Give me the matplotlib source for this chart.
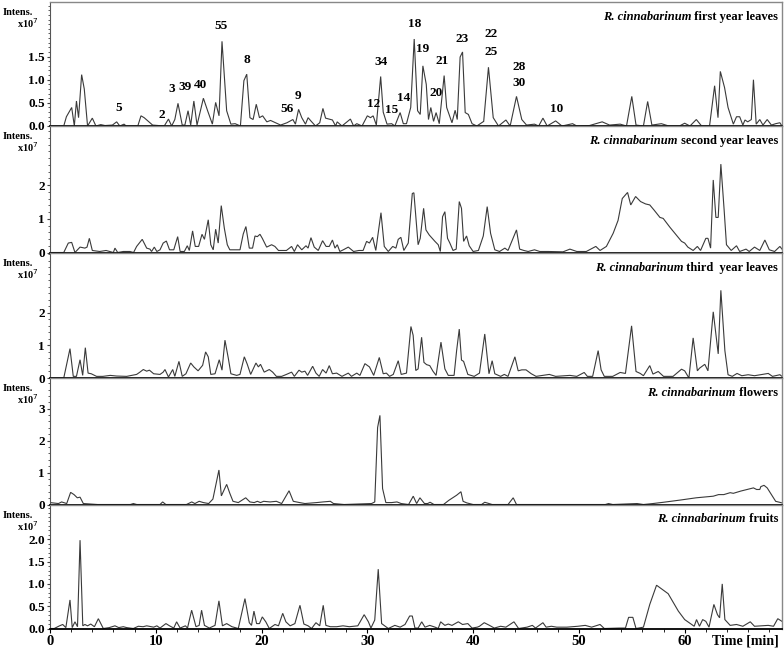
import matplotlib
matplotlib.use("Agg")
import matplotlib.pyplot as plt
from matplotlib.ticker import MultipleLocator, FixedLocator
from matplotlib.offsetbox import TextArea, HPacker, AnchoredOffsetbox

# ---------------- data (time [min], intensity [x10^7]) ----------------
first_year = [(0, 0), (1.3, 0), (1.55, 0.2), (2.05, 0.4), (2.3, 0), (2.5, 0.54), (2.7, 0.18), (2.99, 1.11),
              (3.24, 0.8), (3.55, 0), (4.0, 0.17), (4.34, 0), (4.8, 0.03), (5.2, 0.01), (5.9, 0.02), (6.3, 0.09),
              (6.6, 0), (7.0, 0.04), (7.2, 0), (8.3, 0), (8.6, 0.22), (8.9, 0.18), (9.7, 0.02), (10.8, 0),
              (11.2, 0.15), (11.5, 0), (11.8, 0.14), (12.1, 0.49), (12.5, 0.02), (12.75, 0.02), (13.05, 0.33),
              (13.3, 0.02), (13.6, 0.54), (13.9, 0.02), (14.5, 0.6), (14.9, 0.33), (15.35, 0.04), (15.66, 0.51),
              (15.98, 0.22), (16.26, 1.83), (16.7, 0.33), (17.1, 0.04), (17.5, 0.05), (18.0, 0), (18.33, 0.98),
              (18.6, 1.12), (18.9, 0.18), (19.2, 0.14), (19.5, 0.47), (19.8, 0.18), (20.1, 0.22), (20.5, 0.09),
              (20.85, 0.12), (21.8, 0.02), (22.4, 0.07), (22.96, 0.14), (23.2, 0.04), (23.5, 0.36), (23.8, 0.18),
              (24.15, 0.04), (24.4, 0.18), (24.7, 0.1), (25.1, 0), (25.5, 0.07), (25.8, 0.38), (26.05, 0.17),
              (26.7, 0.13), (27.0, 0), (27.15, 0.09), (27.6, 0), (28.4, 0.15), (28.7, 0), (29.0, 0.05), (29.5, 0),
              (30.0, 0.22), (30.3, 0.18), (30.55, 0.22), (30.85, 0.02), (31.26, 1.07), (31.5, 0.3), (31.86, 0.04),
              (32.3, 0.05), (32.6, 0), (33.1, 0.29), (33.4, 0.05), (33.7, 0.05), (34.1, 0.4), (34.43, 1.88),
              (34.75, 0.33), (35.0, 0.25), (35.25, 1.3), (35.57, 0.9), (35.78, 0.14), (36.0, 0.4), (36.26, 0.1),
              (36.5, 0.29), (36.8, 0.05), (37.26, 1.09), (37.5, 0.4), (38.0, 0.07), (38.3, 0.34), (38.5, 0.14),
              (38.77, 1.49), (39.0, 1.6), (39.25, 0.29), (39.55, 0.25), (39.9, 0.05), (40.35, 0), (41.0, 0.1),
              (41.45, 1.27), (41.9, 0.18), (42.4, 0), (43.1, 0.13), (43.5, 0), (44.1, 0.64), (44.6, 0.14),
              (45.05, 0.02), (45.8, 0.04), (46.2, 0), (46.6, 0.17), (47.0, 0), (47.8, 0.11), (48.4, 0),
              (49.4, 0.05), (49.8, 0), (51.0, 0.01), (52.2, 0.09), (52.9, 0.02), (53.9, 0.04), (54.5, 0),
              (55.0, 0.64), (55.4, 0.02), (56.1, 0), (56.5, 0.53), (56.9, 0.02), (57.8, 0.05), (58.5, 0),
              (59.5, 0), (60.0, 0.06), (60.5, 0), (61.1, 0.14), (61.6, 0), (62.35, 0), (62.83, 0.87),
              (63.15, 0.18), (63.37, 1.18), (63.77, 0.83), (64.1, 0.4), (64.6, 0.04), (64.9, 0.2), (65.2, 0.2),
              (65.5, 0.02), (65.7, 0.13), (65.96, 0.09), (66.3, 0.14), (66.5, 1.0), (66.76, 0.04), (67.1, 0.14),
              (67.4, 0.02), (67.8, 0.14), (68.2, 0.02), (68.6, 0.05), (69.0, 0.07), (69.2, 0)]

second_year = [(0, 0), (1.3, 0), (1.73, 0.28), (2.05, 0.3), (2.36, 0), (2.84, 0.16), (3.3, 0.13), (3.5, 0.16),
               (3.72, 0.42), (4.0, 0.06), (4.7, 0.03), (5.3, 0.06), (5.99, 0), (6.14, 0.13), (6.4, 0),
               (6.93, 0.03), (7.56, 0.03), (7.9, 0), (8.19, 0.18), (8.72, 0.39), (9.14, 0.13), (9.45, 0.1),
               (9.6, 0.03), (9.86, 0.16), (10.1, 0.03), (10.4, 0.08), (10.7, 0.28), (11.0, 0.34), (11.3, 0.08),
               (11.7, 0.08), (12.07, 0.47), (12.3, 0.03), (12.7, 0.03), (12.98, 0.2), (13.17, 0.06), (13.48, 0.64),
               (13.73, 0.18), (14.05, 0.18), (14.37, 0.54), (14.6, 0.39), (14.96, 0.97), (15.2, 0.23),
               (15.43, 0.08), (15.66, 0.69), (15.9, 0.28), (16.19, 1.39), (16.48, 0.72), (16.76, 0.23),
               (17.0, 0.08), (17.96, 0.08), (18.27, 0.55), (18.52, 0.77), (18.84, 0.13), (19.15, 0.13),
               (19.38, 0.49), (19.6, 0.47), (19.85, 0.54), (20.07, 0.42), (20.48, 0.16), (20.95, 0.23),
               (21.26, 0.18), (21.6, 0.06), (22.35, 0.06), (22.84, 0.18), (23.1, 0.03), (23.4, 0.23), (23.8, 0.08),
               (24.2, 0.2), (24.4, 0.13), (24.67, 0.44), (24.98, 0.16), (25.36, 0.06), (25.77, 0.35), (26.1, 0.18),
               (26.4, 0.18), (26.7, 0.37), (26.94, 0.13), (27.16, 0.23), (27.4, 0.03), (27.73, 0.08), (28.2, 0.16),
               (28.7, 0.03), (29.2, 0.06), (29.6, 0.06), (29.93, 0.33), (30.2, 0.28), (30.5, 0.45), (30.8, 0.06),
               (31.29, 1.18), (31.6, 0.18), (31.98, 0.03), (32.4, 0.18), (32.7, 0.13), (32.92, 0.39),
               (33.17, 0.45), (33.45, 0.06), (33.87, 0.28), (34.25, 1.75), (34.4, 1.77), (34.8, 0.23), (35.0, 0.42),
               (35.32, 1.31), (35.54, 0.67), (35.85, 0.52), (36.39, 0.33), (36.7, 0.23), (36.9, 0.03),
               (37.11, 1.06), (37.33, 1.21), (37.58, 0.42), (37.8, 0.28), (38.1, 0.06), (38.4, 0.1), (38.69, 1.51),
               (38.9, 1.31), (39.1, 0.33), (39.38, 0.49), (39.63, 0.2), (40.0, 0.03), (40.5, 0.06), (40.96, 0.49),
               (41.33, 1.36), (41.65, 0.57), (42.05, 0.08), (42.5, 0.03), (43.0, 0.13), (43.3, 0.06), (44.1, 0.67),
               (44.4, 0.1), (44.8, 0.06), (45.2, 0.03), (45.8, 0.08), (46.3, 0.03), (47.1, 0.03), (48.5, 0.02),
               (49.15, 0.1), (49.8, 0.03), (50.7, 0.03), (51.6, 0.18), (52.0, 0.06), (52.6, 0.18), (53.24, 0.57),
               (53.7, 0.95), (54.1, 1.6), (54.6, 1.78), (54.9, 1.41), (55.36, 1.66), (55.83, 1.51), (56.3, 1.44),
               (56.7, 1.41), (57.1, 1.26), (57.66, 1.04), (57.97, 1.01), (58.6, 0.75), (59.2, 0.52), (59.7, 0.33),
               (60.0, 0.28), (60.3, 0.16), (60.8, 0.06), (61.2, 0.18), (61.5, 0.06), (62.0, 0.42), (62.2, 0.42),
               (62.45, 0.13), (62.7, 2.15), (62.95, 1.04), (63.17, 1.04), (63.42, 2.62), (63.73, 1.26),
               (63.95, 0.23), (64.4, 0.06), (64.9, 0.2), (65.2, 0.03), (65.8, 0.1), (66.1, 0.03), (66.6, 0.16),
               (67.1, 0.06), (67.58, 0.37), (68.0, 0.08), (68.5, 0.03), (69.0, 0.18), (69.2, 0.1)]

third_year = [(0, 0), (1.3, 0), (1.89, 0.9), (2.2, 0.05), (2.5, 0.05), (2.84, 0.56), (3.09, 0.08), (3.34, 0.93),
              (3.6, 0.15), (3.9, 0.13), (4.4, 0.05), (5.0, 0.05), (5.7, 0.08), (6.3, 0.06), (7.25, 0.05),
              (8.19, 0.11), (8.5, 0.18), (8.82, 0.26), (9.14, 0.21), (9.4, 0.24), (9.8, 0.13), (10.4, 0.11),
              (10.7, 0.18), (10.87, 0.26), (11.2, 0.03), (11.6, 0.26), (11.8, 0.05), (12.19, 0.51), (12.5, 0.05),
              (12.85, 0.13), (13.3, 0.46), (13.6, 0.34), (14.0, 0.22), (14.43, 0.39), (14.71, 0.8), (14.96, 0.65),
              (15.2, 0.11), (15.6, 0.13), (16.0, 0.56), (16.26, 0.24), (16.54, 1.16), (16.86, 0.6), (17.1, 0.13),
              (17.65, 0.08), (17.96, 0.11), (18.37, 0.65), (18.65, 0.42), (18.97, 0.11), (19.47, 0.46),
              (19.7, 0.34), (19.9, 0.42), (20.25, 0.18), (20.73, 0.26), (21.05, 0.18), (21.4, 0.05), (21.9, 0.05),
              (22.35, 0.11), (22.84, 0.18), (23.1, 0.05), (23.54, 0.24), (23.8, 0.18), (24.1, 0.21), (24.35, 0.08),
              (24.83, 0.36), (25.14, 0.15), (25.45, 0.05), (25.77, 0.26), (26.1, 0.15), (26.4, 0.38), (26.7, 0.13),
              (27.1, 0.15), (27.6, 0.05), (28.2, 0.15), (28.5, 0.05), (29.0, 0.15), (29.3, 0.08), (29.77, 0.44),
              (30.2, 0.34), (30.6, 0.08), (31.13, 0.63), (31.5, 0.13), (31.8, 0.15), (32.1, 0.05), (32.45, 0.11),
              (32.92, 0.53), (33.2, 0.11), (33.7, 0.15), (34.12, 1.58), (34.33, 1.31), (34.58, 0.23), (34.8, 0.28),
              (35.13, 1.25), (35.35, 0.48), (35.6, 0.41), (35.9, 0.38), (36.2, 0.21), (36.5, 0.08), (36.96, 1.1),
              (37.33, 0.28), (37.65, 0.08), (38.2, 0.08), (38.44, 0.84), (38.69, 1.5), (38.9, 0.55), (39.1, 0.51),
              (39.5, 0.11), (40.1, 0.05), (40.6, 0.15), (41.1, 1.35), (41.5, 0.13), (41.8, 0.53), (42.05, 0.13),
              (42.6, 0.05), (42.95, 0.11), (43.3, 0.05), (43.95, 0.65), (44.26, 0.22), (44.6, 0.25), (45.0, 0.25),
              (45.5, 0.13), (45.95, 0.05), (47.2, 0.11), (47.8, 0.05), (49.15, 0.08), (49.8, 0.05), (50.5, 0.17),
              (50.8, 0.05), (51.3, 0.05), (51.82, 0.84), (52.1, 0.25), (52.4, 0.05), (53.2, 0.05), (53.9, 0.17),
              (54.4, 0.14), (54.98, 1.6), (55.4, 0.2), (55.8, 0.14), (56.1, 0.07), (56.7, 0.38), (57.0, 0.12),
              (57.5, 0.2), (58.0, 0.05), (58.9, 0.05), (59.7, 0.27), (60.0, 0.22), (60.4, 0.0), (60.8, 1.23),
              (61.2, 0.22), (61.4, 0.3), (61.9, 0.42), (62.2, 0.22), (62.7, 2.03), (63.17, 0.74), (63.42, 2.69),
              (63.8, 0.84), (64.1, 0.1), (64.5, 0.05), (64.95, 0.14), (65.4, 0.07), (66.0, 0.1), (66.6, 0.07),
              (67.9, 0.14), (68.3, 0.05), (69.0, 0.1), (69.2, 0.05)]

flowers = [(0, 0.06), (0.8, 0.03), (1.1, 0.08), (1.58, 0.03), (1.95, 0.38), (2.27, 0.31), (2.58, 0.21),
           (2.84, 0.23), (3.15, 0.03), (4.5, 0), (7.6, 0), (7.88, 0.03), (8.2, 0), (10.4, 0), (10.65, 0.08),
           (10.95, 0), (12.9, 0), (13.4, 0.08), (13.7, 0.03), (14.1, 0.1), (14.5, 0.06), (15.0, 0.03), (15.4, 0.17),
           (15.97, 1.08), (16.2, 0.27), (16.7, 0.63), (17.0, 0.35), (17.3, 0.1), (17.8, 0.06), (18.5, 0.21),
           (18.9, 0.08), (19.3, 0.06), (19.6, 0.1), (19.9, 0.06), (20.2, 0.1), (20.8, 0.08), (21.4, 0.1),
           (21.9, 0.03), (22.6, 0.43), (23.0, 0.1), (23.6, 0.06), (24.1, 0.03), (25.2, 0.06), (25.8, 0.08),
           (26.5, 0.1), (26.8, 0.03), (27.8, 0), (30.4, 0.03), (30.7, 0.08), (30.97, 2.41), (31.19, 2.79),
           (31.44, 0.5), (31.75, 0.06), (32.3, 0.06), (32.8, 0.08), (33.2, 0.03), (33.9, 0.0), (34.34, 0.26),
           (34.66, 0.03), (34.97, 0.21), (35.4, 0.03), (35.7, 0.03), (35.93, 0.07), (36.3, 0.0), (37.2, 0.0),
           (37.7, 0.13), (38.44, 0.29), (38.85, 0.4), (39.05, 0.1), (39.4, 0.05), (40.0, 0.0), (40.8, 0.0),
           (41.1, 0.07), (41.5, 0.03), (41.8, 0), (43.3, 0), (43.79, 0.21), (44.1, 0), (52.5, 0), (52.8, 0.03),
           (53.2, 0), (55.5, 0.03), (56.1, 0.0), (57.0, 0.03), (58.0, 0.07), (59.6, 0.14), (61.1, 0.21),
           (62.7, 0.26), (63.2, 0.31), (63.7, 0.31), (64.3, 0.37), (64.6, 0.35), (65.3, 0.42), (65.9, 0.47),
           (66.5, 0.52), (66.8, 0.47), (67.1, 0.47), (67.2, 0.56), (67.5, 0.6), (67.8, 0.52), (68.2, 0.31),
           (68.6, 0.1), (69.2, 0.05)]

fruits = [(0, 0), (0.4, 0), (0.9, 0.06), (1.2, 0.09), (1.5, 0.02), (1.89, 0.64), (2.1, 0.02), (2.36, 0.15),
          (2.6, 0.04), (2.84, 1.98), (3.1, 0.06), (3.3, 0.09), (3.55, 0.06), (3.85, 0.1), (4.2, 0.04),
          (4.57, 0.22), (4.8, 0.11), (5.04, 0), (5.6, 0.02), (6.14, 0.06), (6.5, 0.02), (6.93, 0.04), (7.25, 0.02),
          (7.88, 0), (8.35, 0.05), (8.8, 0.04), (9.14, 0.06), (9.8, 0.03), (10.1, 0.06), (10.4, 0.01),
          (10.96, 0.11), (11.3, 0.06), (11.7, 0.01), (11.97, 0.15), (12.3, 0.01), (12.8, 0.06), (13.0, 0.01),
          (13.39, 0.41), (13.8, 0.04), (14.1, 0.07), (14.33, 0.41), (14.6, 0.07), (15.06, 0.01), (15.6, 0.07),
          (15.97, 0.62), (16.3, 0.06), (16.7, 0.11), (17.2, 0.04), (17.8, 0), (18.43, 0.67), (18.84, 0.13),
          (19.05, 0.07), (19.28, 0.39), (19.53, 0.11), (19.8, 0.11), (20.07, 0.26), (20.4, 0.15), (20.73, 0),
          (21.27, 0.09), (21.6, 0.06), (22.0, 0.34), (22.3, 0.15), (22.7, 0.06), (23.15, 0.11), (23.63, 0.52),
          (24.0, 0.1), (24.4, 0.06), (24.73, 0), (25.14, 0.13), (25.5, 0.06), (25.83, 0.52), (26.08, 0.07),
          (26.5, 0.04), (27.1, 0.04), (27.7, 0.06), (28.3, 0.04), (29.1, 0.06), (29.7, 0.31), (30.1, 0.15),
          (30.34, 0.01), (30.7, 0.19), (31.03, 1.33), (31.35, 0.11), (31.98, 0.0), (32.6, 0.07), (33.1, 0.03),
          (33.56, 0.09), (34.0, 0.28), (34.25, 0.28), (34.5, 0.01), (34.8, 0.01), (35.14, 0.15), (35.45, 0.03),
          (35.9, 0.07), (36.4, 0.03), (36.7, 0.0), (36.93, 0.15), (37.33, 0.07), (37.65, 0.1), (38.0, 0.07),
          (38.6, 0.15), (39.0, 0.09), (39.5, 0.11), (39.9, 0.01), (40.4, 0.03), (40.6, 0.05), (41.05, 0.13),
          (41.55, 0.07), (42.0, 0.01), (42.6, 0.05), (43.1, 0.03), (43.86, 0.15), (44.3, 0.0), (45.1, 0.03),
          (45.6, 0.07), (45.9, 0.01), (46.6, 0.13), (46.9, 0.03), (47.4, 0.05), (47.9, 0.03), (48.85, 0.03),
          (49.9, 0.05), (50.6, 0.07), (51.2, 0.03), (52.0, 0.09), (52.4, 0.0), (53.8, 0.01), (54.4, 0.01),
          (54.7, 0.25), (55.1, 0.25), (55.4, 0.0), (56.1, 0.03), (56.7, 0.54), (57.34, 0.97), (58.44, 0.78),
          (58.76, 0.65), (59.4, 0.39), (60.0, 0.2), (60.6, 0.1), (60.9, 0.05), (61.12, 0.2), (61.4, 0.05),
          (61.7, 0.2), (62.0, 0.16), (62.3, 0.03), (62.76, 0.54), (63.1, 0.31), (63.3, 0.24), (63.55, 1.0),
          (63.8, 0.2), (64.3, 0.07), (64.9, 0.09), (65.5, 0.05), (66.2, 0.15), (66.6, 0.05), (67.9, 0.07),
          (68.4, 0.05), (68.8, 0.22), (69.2, 0.16)]

series = [first_year, second_year, third_year, flowers, fruits]
panel_titles = ["first year leaves", "second year leaves", "third  year leaves", "flowers", "fruits"]
species = "R. cinnabarinum"

# peak annotations in the first panel (compound number, retention time, label height)
peak_ids = ["5", "2", "3", "39", "40", "55", "8", "56", "9", "12", "34", "15", "14", "18", "19", "20", "21",
            "23", "22", "25", "28", "30", "10"]
peak_t = [6.5, 10.55, 11.5, 12.76, 14.27, 16.2, 18.6, 22.4, 23.4, 30.56, 31.3, 32.3, 33.4, 34.5, 35.2, 36.5,
          37.1, 38.97, 41.7, 41.7, 44.36, 44.36, 47.9]
peak_y = [0.38, 0.23, 0.79, 0.84, 0.88, 2.16, 1.42, 0.36, 0.64, 0.47, 1.39, 0.34, 0.6, 2.2, 1.66, 0.71, 1.41,
          1.88, 1.98, 1.6, 1.28, 0.94, 0.36]

y_major = [[0.0, 0.5, 1.0, 1.5], [0, 1, 2], [0, 1, 2], [0, 1, 2, 3], [0.0, 0.5, 1.0, 1.5, 2.0]]
y_labels = [["0.0", "0.5", "1.0", "1.5"], ["0", "1", "2"], ["0", "1", "2"], ["0", "1", "2", "3"],
            ["0.0", "0.5", "1.0", "1.5", "2.0"]]
y_top = [2.68, 3.75, 3.85, 3.96, 2.78]
y_minor_step = [0.1, 0.2, 0.2, 0.2, 0.1]
x_ticks = [0, 10, 20, 30, 40, 50, 60]

# ---------------- figure ----------------
W, H = 784, 649
fig = plt.figure(figsize=(W / 100, H / 100), dpi=100)
FONT = "Liberation Serif"
bounds = [(2, 126), (126, 252.5), (252.5, 378), (378, 504.5), (504.5, 628.5)]
x_left, x_right = 50, 782
XMAX = 69.2

for k, (top, bot) in enumerate(bounds):
    ax = fig.add_axes([x_left / W, 1 - bot / H, (x_right - x_left) / W, (bot - top) / H])
    t = [p[0] for p in series[k]]
    v = [p[1] for p in series[k]]
    ax.plot(t, v, color="#3a3a3a", lw=0.8, solid_joinstyle="miter", clip_on=True)
    ax.set_xlim(0, XMAX)
    ax.set_ylim(0, y_top[k])
    ax.yaxis.set_major_locator(FixedLocator(y_major[k]))
    ax.set_yticklabels(y_labels[k], fontfamily=FONT, fontweight="bold", fontsize=9.5)
    ax.yaxis.set_minor_locator(MultipleLocator(y_minor_step[k]))
    ax.tick_params(axis="y", which="major", direction="out", length=2.4, width=0.8, pad=1.2, color="#444")
    ax.tick_params(axis="y", which="minor", direction="out", length=1.6, width=0.6, color="#444")
    for side in ("top", "right"):
        ax.spines[side].set_color("#888888")
        ax.spines[side].set_linewidth(1.0)
    ax.spines["left"].set_color("#555555")
    ax.spines["left"].set_linewidth(0.8)
    ax.spines["bottom"].set_color("black")
    ax.spines["bottom"].set_linewidth(1.3)
    if k == len(bounds) - 1:
        ax.xaxis.set_major_locator(FixedLocator(x_ticks))
        ax.xaxis.set_minor_locator(MultipleLocator(2))
        ax.set_xticklabels([str(x) for x in x_ticks], fontfamily=FONT, fontweight="bold", fontsize=10.5)
        ax.tick_params(axis="x", which="major", direction="out", length=3, width=0.8, pad=2)
        ax.tick_params(axis="x", which="minor", direction="out", length=2, width=0.6)
    else:
        ax.set_xticks([])

    # "Intens." / "x10^7" labels
    fig.text(3 / W, 1 - (top + 10.5) / H, "Intens.", fontfamily=FONT, fontweight="bold", fontsize=7.5,
             ha="left", va="center")
    fig.text(39 / W, 1 - (top + 21.5) / H, r"x10$^{7}$", fontfamily=FONT, fontweight="bold", fontsize=7.5,
             ha="right", va="center")

    # panel title: italic species + normal description
    ta1 = TextArea(species, textprops=dict(fontfamily=FONT, fontweight="bold", fontstyle="italic", fontsize=9))
    ta2 = TextArea(" " + panel_titles[k], textprops=dict(fontfamily=FONT, fontweight="bold", fontsize=9))
    box = HPacker(children=[ta1, ta2], align="baseline", pad=0, sep=0)
    ph = bot - top
    anch = AnchoredOffsetbox(loc="upper right", child=box, pad=0, borderpad=0, frameon=False,
                             bbox_to_anchor=(1 - 4 / (x_right - x_left), 1 - 9 / ph),
                             bbox_transform=ax.transAxes)
    ax.add_artist(anch)

    if k == 0:
        for lab, pt, py in zip(peak_ids, peak_t, peak_y):
            ax.text(pt, py, lab, fontfamily=FONT, fontweight="bold", fontsize=9.5, ha="center", va="center")
    if k == len(bounds) - 1:
        fig.text(745 / W, 1 - 641 / H, "Time [min]", fontfamily=FONT, fontweight="bold", fontsize=10,
                 ha="center", va="center")

fig.savefig("out.png", dpi=100)
